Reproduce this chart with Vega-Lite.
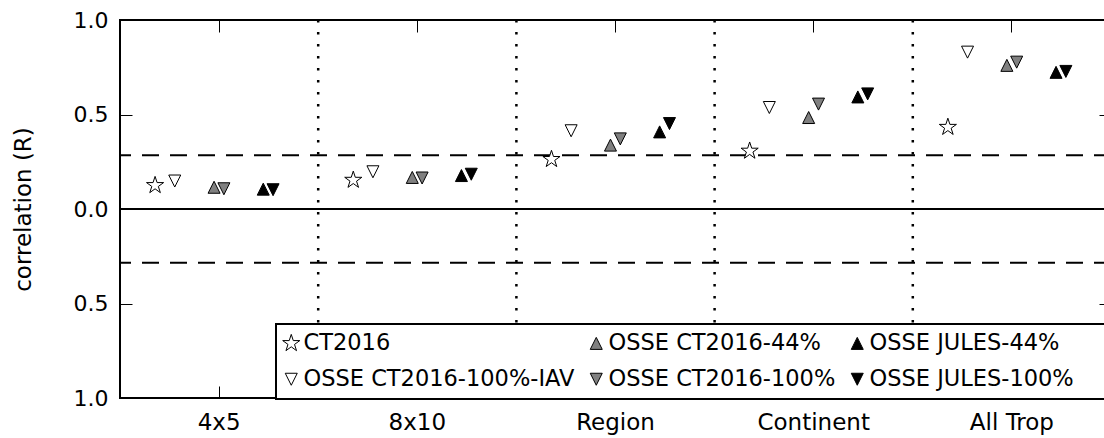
{
  "$schema": "https://vega.github.io/schema/vega-lite/v6.json",
  "width": 991,
  "height": 378,
  "autosize": "none",
  "padding": {"left": 120, "top": 20, "right": -7, "bottom": 40},
  "background": "white",
  "config": {
    "font": "DejaVu Sans",
    "view": {"stroke": "black", "strokeWidth": 2},
    "axis": {
      "domain": false, "grid": false,
      "tickColor": "black", "tickWidth": 1, "tickSize": -12,
      "labelColor": "black", "labelFont": "DejaVu Sans", "labelFontSize": 22,
      "titleColor": "black", "titleFont": "DejaVu Sans", "titleFontWeight": "normal",
      "labelFlush": false, "labelOverlap": false
    },
    "legend": {
      "orient": "none", "legendX": 156, "legendY": 304, "columns": 3,
      "padding": 8, "rowPadding": 13, "columnPadding": 13,
      "labelOffset": 1, "symbolOffset": -4, "symbolSize": 144,
      "symbolStrokeWidth": 1, "symbolStrokeColor": "black",
      "labelFontSize": 22.5, "labelFont": "DejaVu Sans", "labelColor": "black",
      "labelLimit": 600,
      "titleOrient": "right", "titlePadding": 220, "titleFontSize": 10,
      "strokeColor": "black", "strokeWidth": 2, "fillColor": "white"
    }
  },
  "datasets": {
    "corr": [
      {"aggregation": "4x5", "series": "CT2016", "r": 0.125},
      {"aggregation": "4x5", "series": "OSSE CT2016-100%-IAV", "r": 0.148},
      {"aggregation": "4x5", "series": "OSSE CT2016-44%", "r": 0.115},
      {"aggregation": "4x5", "series": "OSSE CT2016-100%", "r": 0.107},
      {"aggregation": "4x5", "series": "OSSE JULES-44%", "r": 0.105},
      {"aggregation": "4x5", "series": "OSSE JULES-100%", "r": 0.102},
      {"aggregation": "8x10", "series": "CT2016", "r": 0.153},
      {"aggregation": "8x10", "series": "OSSE CT2016-100%-IAV", "r": 0.197},
      {"aggregation": "8x10", "series": "OSSE CT2016-44%", "r": 0.167},
      {"aggregation": "8x10", "series": "OSSE CT2016-100%", "r": 0.164},
      {"aggregation": "8x10", "series": "OSSE JULES-44%", "r": 0.177},
      {"aggregation": "8x10", "series": "OSSE JULES-100%", "r": 0.184},
      {"aggregation": "Region", "series": "CT2016", "r": 0.263},
      {"aggregation": "Region", "series": "OSSE CT2016-100%-IAV", "r": 0.414},
      {"aggregation": "Region", "series": "OSSE CT2016-44%", "r": 0.338},
      {"aggregation": "Region", "series": "OSSE CT2016-100%", "r": 0.371},
      {"aggregation": "Region", "series": "OSSE JULES-44%", "r": 0.408},
      {"aggregation": "Region", "series": "OSSE JULES-100%", "r": 0.452},
      {"aggregation": "Continent", "series": "CT2016", "r": 0.307},
      {"aggregation": "Continent", "series": "OSSE CT2016-100%-IAV", "r": 0.537},
      {"aggregation": "Continent", "series": "OSSE CT2016-44%", "r": 0.484},
      {"aggregation": "Continent", "series": "OSSE CT2016-100%", "r": 0.555},
      {"aggregation": "Continent", "series": "OSSE JULES-44%", "r": 0.593},
      {"aggregation": "Continent", "series": "OSSE JULES-100%", "r": 0.609},
      {"aggregation": "All Trop", "series": "CT2016", "r": 0.433},
      {"aggregation": "All Trop", "series": "OSSE CT2016-100%-IAV", "r": 0.830},
      {"aggregation": "All Trop", "series": "OSSE CT2016-44%", "r": 0.760},
      {"aggregation": "All Trop", "series": "OSSE CT2016-100%", "r": 0.777},
      {"aggregation": "All Trop", "series": "OSSE JULES-44%", "r": 0.723},
      {"aggregation": "All Trop", "series": "OSSE JULES-100%", "r": 0.728}
    ],
    "refs": [
      {"r": 0, "kind": "zero"},
      {"r": 0.284, "kind": "significance"},
      {"r": -0.284, "kind": "significance"}
    ]
  },
  "layer": [
    {
      "data": {"name": "corr"},
      "transform": [{"filter": "datum.series === 'CT2016' && datum.aggregation !== 'All Trop'"}],
      "mark": {"type": "rule", "color": "black", "strokeWidth": 2.5, "strokeDash": [2.5, 9.5]},
      "encoding": {
        "x": {
          "field": "aggregation", "type": "nominal", "bandPosition": 1,
          "sort": ["4x5", "8x10", "Region", "Continent", "All Trop"],
          "scale": {"type": "band", "paddingInner": 0, "paddingOuter": 0},
          "axis": {"orient": "top", "labels": false, "title": null}
        }
      }
    },
    {
      "data": {"name": "refs"},
      "transform": [{"filter": "datum.kind === 'significance'"}],
      "mark": {"type": "rule", "color": "black", "strokeWidth": 2, "strokeDash": [17, 11]},
      "encoding": {
        "y": {"field": "r", "type": "quantitative", "scale": {"domain": [-1, 1], "nice": false}, "axis": null}
      }
    },
    {
      "data": {"name": "refs"},
      "transform": [{"filter": "datum.kind === 'zero'"}],
      "mark": {"type": "rule", "color": "black", "strokeWidth": 2},
      "encoding": {
        "y": {
          "field": "r", "type": "quantitative", "scale": {"domain": [-1, 1], "nice": false},
          "axis": {"orient": "right", "values": [-1, -0.5, 0, 0.5, 1], "labels": false, "title": null}
        }
      }
    },
    {
      "data": {"name": "corr"},
      "mark": {"type": "point", "filled": true, "size": 144, "strokeWidth": 1, "opacity": 1},
      "encoding": {
        "x": {
          "field": "aggregation", "type": "nominal",
          "sort": ["4x5", "8x10", "Region", "Continent", "All Trop"],
          "scale": {"type": "band", "paddingInner": 0, "paddingOuter": 0},
          "axis": {"orient": "bottom", "title": null, "labelAngle": 0, "labelPadding": 25.5, "labelFontSize": 23}
        },
        "xOffset": {
          "field": "series", "type": "nominal",
          "scale": {
            "type": "point",
            "domain": ["_p1", "_p2", "_p3", "CT2016", "_a", "OSSE CT2016-100%-IAV", "_b", "_c", "_d", "OSSE CT2016-44%", "OSSE CT2016-100%", "_e", "_f", "_g", "OSSE JULES-44%", "OSSE JULES-100%", "_q1", "_q2", "_q3", "_q4"],
            "padding": 0.578, "align": 0.49
          }
        },
        "y": {
          "field": "r", "type": "quantitative",
          "scale": {"domain": [-1, 1], "nice": false},
          "axis": {
            "orient": "left", "values": [-1, -0.5, 0, 0.5, 1],
            "labelExpr": "format(abs(datum.value), '.1f')",
            "labelPadding": 24,
            "title": "correlation (R)", "titleFontSize": 23,
            "titleX": -97, "titleY": 189, "titleAngle": -90, "titleBaseline": "middle", "titleAlign": "center"
          }
        },
        "shape": {
          "field": "series", "type": "nominal",
          "scale": {
            "domain": ["CT2016", "OSSE CT2016-100%-IAV", "OSSE CT2016-44%", "OSSE CT2016-100%", "OSSE JULES-44%", "OSSE JULES-100%"],
            "range": [
              "M0,-1.5L0.337,-0.464L1.427,-0.464L0.545,0.177L0.882,1.214L0,0.573L-0.882,1.214L-0.545,0.177L-1.427,-0.464L-0.337,-0.464Z",
              "M0,1L-1,-1L1,-1Z",
              "M0,-1L-1,1L1,1Z",
              "M0,1L-1,-1L1,-1Z",
              "M0,-1L-1,1L1,1Z",
              "M0,1L-1,-1L1,-1Z"
            ]
          },
          "legend": {"title": " "}
        },
        "fill": {
          "field": "series", "type": "nominal",
          "scale": {
            "domain": ["CT2016", "OSSE CT2016-100%-IAV", "OSSE CT2016-44%", "OSSE CT2016-100%", "OSSE JULES-44%", "OSSE JULES-100%"],
            "range": ["white", "white", "#808080", "#808080", "black", "black"]
          },
          "legend": {"title": " "}
        },
        "stroke": {
          "field": "series", "type": "nominal",
          "scale": {
            "domain": ["CT2016", "OSSE CT2016-100%-IAV", "OSSE CT2016-44%", "OSSE CT2016-100%", "OSSE JULES-44%", "OSSE JULES-100%"],
            "range": ["black", "black", "black", "black", "black", "black"]
          },
          "legend": {"title": " "}
        }
      }
    }
  ],
  "resolve": {"axis": {"x": "independent", "y": "independent"}}
}
